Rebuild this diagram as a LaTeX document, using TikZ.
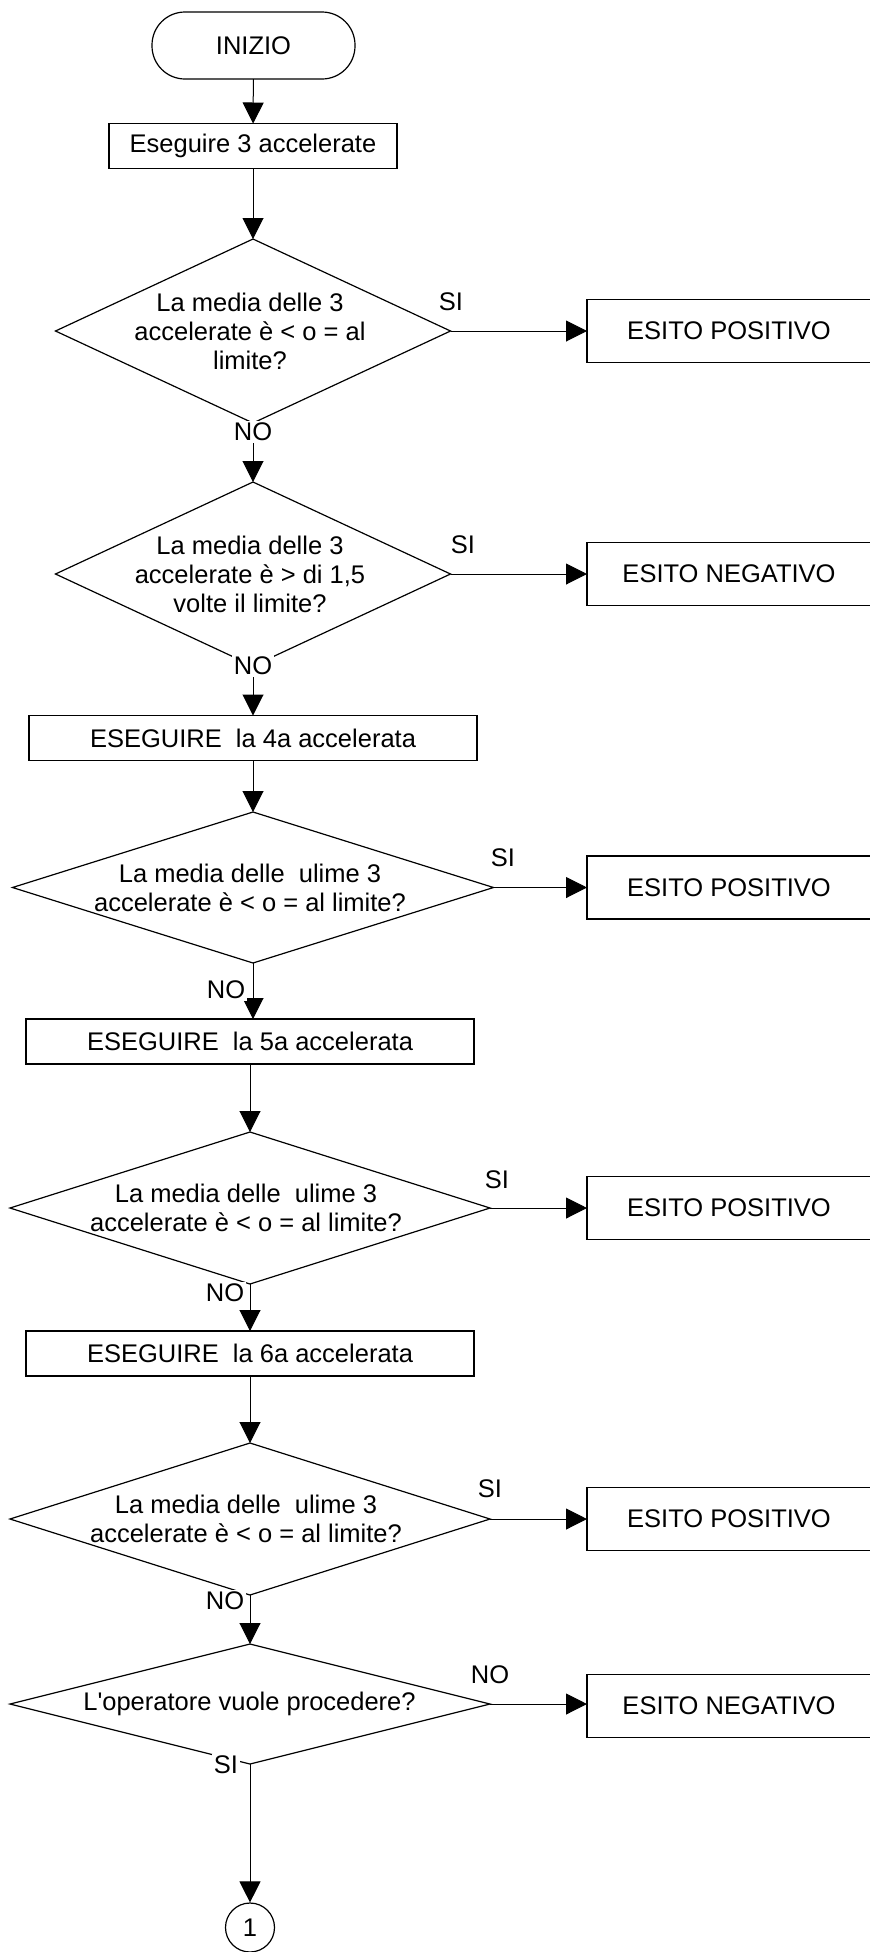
\documentclass[tikz,border=0pt]{standalone}
\usepackage{fontspec}
\setmainfont{Liberation Sans}[Ligatures=TeXOff]
\usetikzlibrary{shapes.geometric,arrows.meta}
\begin{document}
\begin{tikzpicture}[x=1pt,y=-1pt,
  every node/.style={font=\fontsize{25.5}{29}\selectfont},
  shp/.style={draw=black, line width=1.2pt, inner sep=0pt, outer sep=0pt},
  termbox/.style={shp, rectangle, rounded corners=33pt, minimum width=203pt, minimum height=67pt},
  procbox/.style={shp, rectangle, minimum height=45pt},
  outbox/.style={shp, rectangle, minimum width=306pt, minimum height=63pt},
  decision/.style={shp, diamond},
  dtext/.style={align=center, inner sep=0pt},
  tag/.style={fill=white, inner sep=1.5pt},
  conn/.style={draw=black, line width=1pt, -{Triangle[length=21pt,width=21pt]}},
  joint/.style={shape=circle, draw=black, line width=1.2pt, minimum size=49pt, inner sep=0pt}
]
\useasboundingbox (0,0) rectangle (870,1952);
\clip (0,0) rectangle (870,1952);

% main column
\node[termbox] (start) at (253.5,45.5) {INIZIO};
\node[procbox, minimum width=288pt] (b1) at (253,146) {Eseguire 3 accelerate};
\node[decision, minimum width=395pt, minimum height=184pt] (d1) at (253,331) {};
\node[dtext] (d1t) at (250,331) {La media delle 3\\accelerate è < o = al\\limite?};
\node[decision, minimum width=395pt, minimum height=184pt] (d2) at (253,574) {};
\node[dtext] (d2t) at (250,574) {La media delle 3\\accelerate è > di 1,5\\volte il limite?};
\node[procbox, minimum width=448pt] (b4) at (253,738) {ESEGUIRE\ \ la 4a accelerata};
\node[decision, minimum width=481pt, minimum height=151pt] (d3) at (253,887.5) {};
\node[dtext] (d3t) at (250,887.5) {La media delle\ \ ulime 3\\accelerate è < o = al limite?};
\node[procbox, minimum width=448pt] (b5) at (250,1041.5) {ESEGUIRE\ \ la 5a accelerata};
\node[decision, minimum width=480pt, minimum height=152pt] (d4) at (250,1208) {};
\node[dtext] (d4t) at (246,1208) {La media delle\ \ ulime 3\\accelerate è < o = al limite?};
\node[procbox, minimum width=448pt] (b6) at (250,1353.5) {ESEGUIRE\ \ la 6a accelerata};
\node[decision, minimum width=480pt, minimum height=152pt] (d5) at (250,1519) {};
\node[dtext] (d5t) at (246,1519) {La media delle\ \ ulime 3\\accelerate è < o = al limite?};
\node[decision, minimum width=480pt, minimum height=120pt] (d6) at (250,1704) {};
\node[dtext] (d6t) at (249.5,1704) {L'operatore vuole procedere?};
\node[joint] (c1) at (250,1927.5) {1};

% outcome boxes (they run past the right edge of the picture)
\node[outbox] (p1) at (740,331) {ESITO POSITIVO\hspace*{22pt}};
\node[outbox] (n1) at (740,574) {ESITO NEGATIVO\hspace*{22pt}};
\node[outbox] (p2) at (740,887.5) {ESITO POSITIVO\hspace*{22pt}};
\node[outbox] (p3) at (740,1208) {ESITO POSITIVO\hspace*{22pt}};
\node[outbox] (p4) at (740,1519) {ESITO POSITIVO\hspace*{22pt}};
\node[outbox] (n2) at (740,1706) {ESITO NEGATIVO\hspace*{22pt}};

% connectors
\draw[conn] (start) -- (b1);
\draw[conn] (b1) -- (d1.north);
\draw[conn] (d1.east) -- (p1.west);
\draw[conn] (d1.south) -- (d2.north);
\draw[conn] (d2.east) -- (n1.west);
\draw[conn] (d2.south) -- (b4.north);
\draw[conn] (b4) -- (d3.north);
\draw[conn] (d3.east) -- (p2.west);
\draw[conn] (d3.south) -- (d3.south |- b5.north);
\draw[conn] (b5) -- (d4.north);
\draw[conn] (d4.east) -- (p3.west);
\draw[conn] (d4.south) -- (b6.north);
\draw[conn] (b6) -- (d5.north);
\draw[conn] (d5.east) -- (p4.west);
\draw[conn] (d5.south) -- (d6.north);
\draw[conn] (d6.east) -- (d6.east -| n2.west);
\draw[conn] (d6.south) -- (c1.north);

% branch labels
\node[tag] (l1s) at (451,302) {SI};
\node[tag] (l1n) at (253,432) {NO};
\node[tag] (l2s) at (463,545) {SI};
\node[tag] (l2n) at (253,666) {NO};
\node[tag] (l3s) at (503,858) {SI};
\node[tag] (l3n) at (226,990) {NO};
\node[tag] (l4s) at (497,1180) {SI};
\node[tag] (l4n) at (225,1293) {NO};
\node[tag] (l5s) at (490,1489) {SI};
\node[tag] (l5n) at (225,1601) {NO};
\node[tag] (l6n) at (490,1675) {NO};
\node[tag] (l6s) at (226,1765) {SI};
\end{tikzpicture}
\end{document}
